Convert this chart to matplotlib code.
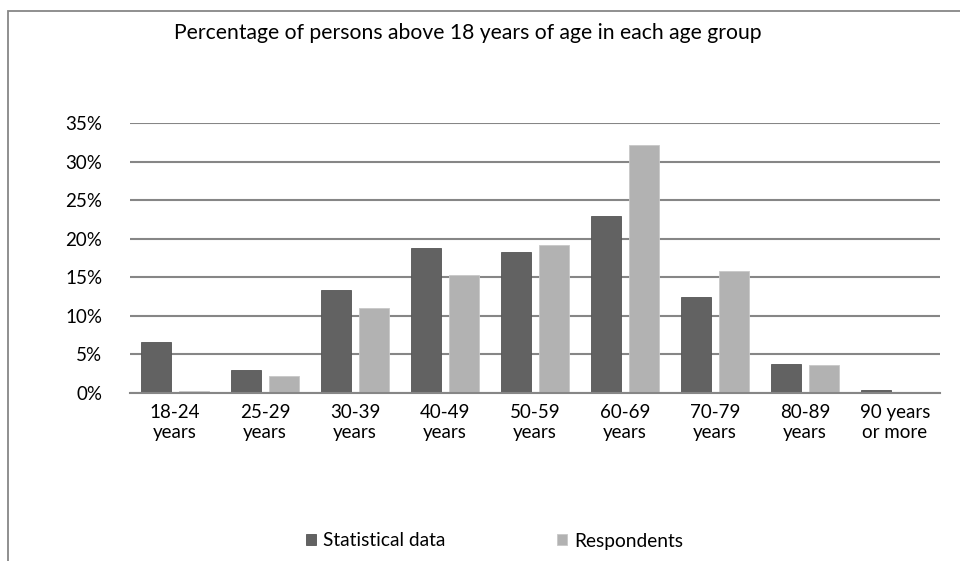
import numpy as np
import matplotlib.pyplot as plt
from matplotlib.patches import Rectangle

plt.rcParams['font.family'] = ['Lato', 'DejaVu Sans']

categories = ["18-24\nyears", "25-29\nyears", "30-39\nyears", "40-49\nyears", "50-59\nyears",
              "60-69\nyears", "70-79\nyears", "80-89\nyears", "90 years\nor more"]
statistical = [6.6, 3.0, 13.3, 18.8, 18.3, 22.9, 12.4, 3.7, 0.4]
respondents = [0.3, 2.2, 11.0, 15.3, 19.2, 32.1, 15.8, 3.6, 0.1]
yticks = [0, 5, 10, 15, 20, 25, 30, 35]

fig = plt.figure(figsize=(9.6, 5.61), dpi=100)
ax = fig.add_axes([130 / 960, 1 - 393 / 561, 810 / 960, 270 / 561])

x = np.arange(len(categories))
w = 0.333
off = 0.211
ax.bar(x - off, statistical, w, color="#626262", edgecolor="#555555", linewidth=0.6,
       label="Statistical data", zorder=3)
ax.bar(x + off, respondents, w, color="#b2b2b2", edgecolor="#c8c8c8", linewidth=0.6,
       label="Respondents", zorder=3)

ax.set_xlim(-0.5, len(categories) - 0.5)
ax.set_ylim(0, 35)
ax.set_yticks(yticks)
ax.set_yticklabels([f"{v}%" for v in yticks], fontsize=13.5)
ax.set_xticks(x)
ax.set_xticklabels(categories, fontsize=13.5, linespacing=1.2)
ax.tick_params(axis="both", length=0, colors="black")
ax.tick_params(axis="y", pad=20)
ax.tick_params(axis="x", pad=8)
ax.grid(axis="y", color="#868686", linewidth=1.5, zorder=0)
for s in ["top", "right", "left"]:
    ax.spines[s].set_visible(False)
ax.spines["bottom"].set_color("#868686")
ax.spines["bottom"].set_linewidth(1.5)
ax.spines["bottom"].set_zorder(4)

fig.text(0.4875, 1 - 33 / 561, "Percentage of persons above 18 years of age in each age group",
         ha="center", va="center", fontsize=15.2)

fig.legend(loc="center", bbox_to_anchor=(0.515, 1 - 541 / 561), ncol=2, frameon=False,
           fontsize=13.8, handlelength=0.55, handleheight=0.55, columnspacing=5.8, handletextpad=0.35)

fig.add_artist(Rectangle((7.5 / 960, -0.1), 1.2, 1.1 - 10.5 / 561,
                         transform=fig.transFigure, fill=False, edgecolor="#878787",
                         linewidth=1.3))

fig.savefig("out.png", dpi=100)
